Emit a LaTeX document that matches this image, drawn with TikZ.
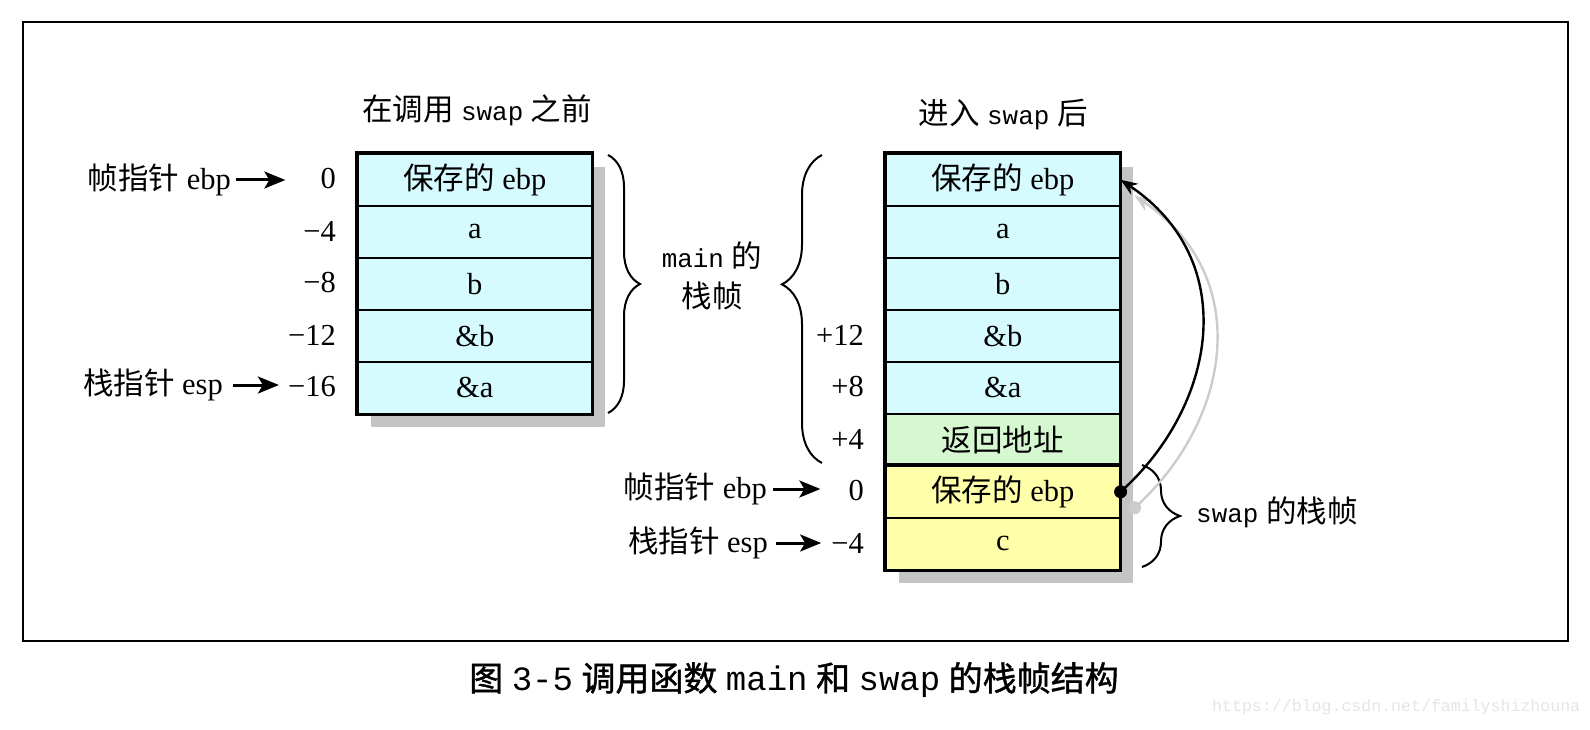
\documentclass[tikz,border=0pt]{standalone}
\usepackage{fontspec}
\setmainfont{Liberation Serif}
\newfontfamily\cjk{Noto Sans CJK SC}
\newfontfamily\cjkbf[FakeBold=1.2]{Noto Sans CJK SC}
\newfontfamily\mono[Scale=0.85]{Liberation Mono}
\newfontfamily\monofull{Liberation Mono}
\usetikzlibrary{arrows.meta,decorations.pathreplacing}

\definecolor{cellcyan}{HTML}{D5FBFE}
\definecolor{cellgreen}{HTML}{D6F8D0}
\definecolor{cellyellow}{HTML}{FFFFAA}
\definecolor{shadowgray}{HTML}{C4C4C4}

\tikzset{
    cell/.style={draw, line width=1.6pt, minimum width=234pt, minimum height=52pt,
        inner sep=0pt, anchor=north west},
    addr/.style={anchor=east, inner sep=0pt},
    ptr/.style={-{Stealth[length=21pt,width=17pt,inset=5pt]}, line width=3pt},
    curly/.style={decorate, line width=2pt},
}

\begin{document}
\begin{tikzpicture}[x=1pt, y=-1pt, font=\fontsize{30.5}{32}\selectfont]
    \useasboundingbox (0,0) rectangle (1590,730);
    \draw[line width=2.6pt] (23,22) rectangle (1568,641);

    % before calling swap
    \node (ltitle) at (477,110) {{\cjk 在调用} {\mono swap} {\cjk 之前}};
    \fill[shadowgray] (371,167) rectangle (605,427);
    \foreach \txt [count=\i from 0] in {{{\cjk 保存的} ebp}, a, b, \&b, \&a} {
        \node[cell, fill=cellcyan] (l\i) at (357, 153+52*\i) {\txt};
    }
    \draw[line width=3.2pt] (l0.north west) rectangle (l4.south east);
    \foreach \n [count=\i from 0] in {0, −4, −8, −12, −16} {
        \node[addr] (la\i) at (336, 179+52*\i) {\n};
    }
    \node[addr] (lfp) at (231,180) {{\cjk 帧指针} ebp};
    \node[addr] (lsp) at (223,385) {{\cjk 栈指针} esp};
    \draw[ptr, shorten <=5pt, shorten >=35pt] (lfp.east) -- (lfp.east -| la0.west);
    \draw[ptr, shorten <=10pt, shorten >=9pt] (lsp.east) -- (lsp.east -| la4.west);

    \draw[curly, decoration={brace, amplitude=32pt}] (608,155) -- (608,413);
    \node[align=center, font=\fontsize{30.5}{40}\selectfont] (mainlbl) at (712,276)
        {{\mono main} {\cjk 的}\\{\cjk 栈帧}};

    % after entering swap
    \node (rtitle) at (1003,115) {{\cjk 进入} {\mono swap} {\cjk 后}};
    \fill[shadowgray] (899,167) rectangle (1133,583);
    \foreach \txt/\col [count=\i from 0] in {{{\cjk 保存的} ebp}/cellcyan, a/cellcyan,
            b/cellcyan, \&b/cellcyan, \&a/cellcyan, {\cjk 返回地址}/cellgreen,
            {{\cjk 保存的} ebp}/cellyellow, c/cellyellow} {
        \node[cell, fill=\col] (r\i) at (885, 153+52*\i) {\txt};
    }
    \draw[line width=3.2pt] (r0.north west) rectangle (r7.south east);
    \draw[line width=3.2pt] (r6.north west) -- (r6.north east);
    \foreach \n [count=\i from 3] in {+12, +8, +4, 0, −4} {
        \node[addr] (ra\i) at (864, 179+52*\i) {\n};
    }
    \node[addr] (rfp) at (767,489) {{\cjk 帧指针} ebp};
    \node[addr] (rsp) at (768,543) {{\cjk 栈指针} esp};
    \draw[ptr, shorten <=6pt, shorten >=28pt] (rfp.east) -- (rfp.east -| ra6.west);
    \draw[ptr, shorten <=8pt, shorten >=10pt] (rsp.east) -- (rsp.east -| ra7.west);

    \draw[curly, decoration={brace, amplitude=40pt, aspect=0.58}] (822,463) -- (822,155);
    \draw[curly, decoration={brace, amplitude=38pt}] (1142,465) -- (1142,567);
    \node[anchor=west, inner sep=0pt] (swaplbl) at (1196,512) {{\mono swap} {\cjk 的栈帧}};

    % saved ebp link
    \fill[gray!40] ([shift={(14,16)}]r6.east) circle (6.5pt);
    \draw[gray!40, line width=2.4pt, -{Stealth[length=17pt,width=13pt]}]
        ([shift={(14,16)}]r6.east) .. controls +(96,-86) and +(121,81) .. ([shift={(14,16)}]r0.east);
    \fill (r6.east) circle (6.5pt);
    \draw[line width=2.4pt, -{Stealth[length=17pt,width=13pt]}]
        (r6.east) .. controls +(96,-86) and +(121,81) .. (r0.east);

    \node[font=\fontsize{34}{36}\selectfont] (caption) at (794,680)
        {{\cjkbf 图} {\monofull 3-5} {\cjkbf 调用函数} {\monofull main} {\cjkbf 和} {\monofull swap} {\cjkbf 的栈帧结构}};
    \node[anchor=west, inner sep=0pt, text=gray!20, font=\mono\fontsize{19.5}{20}\selectfont] (wmark) at (1212,707)
        {https://blog.csdn.net/familyshizhouna};
\end{tikzpicture}
\end{document}
